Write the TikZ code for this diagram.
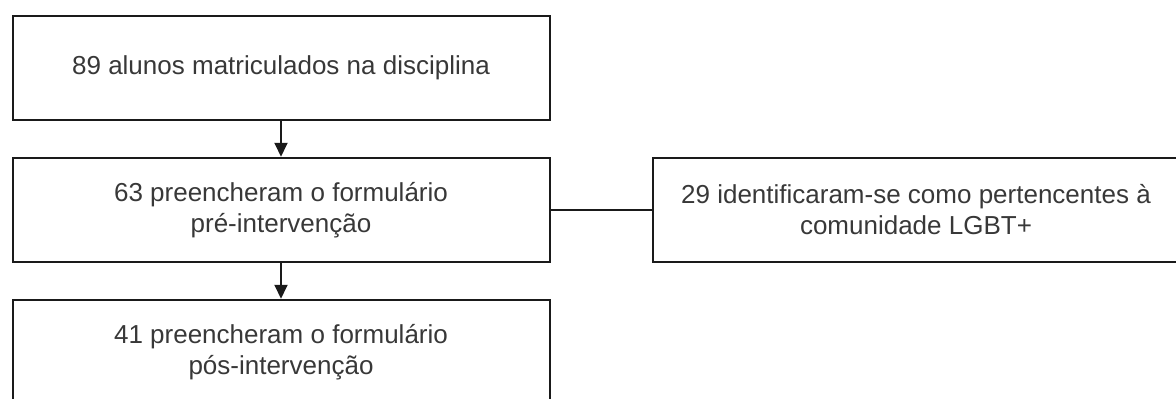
\documentclass[tikz,border=0pt]{standalone}
\usepackage{fontspec}
\setmainfont{Liberation Sans}
\usetikzlibrary{arrows.meta}
\definecolor{txt}{HTML}{383838}
\definecolor{ln}{HTML}{1A1A1A}
\tikzset{
  stepbox/.style={draw=ln, line width=2pt, minimum width=537pt, minimum height=104.5pt,
    inner sep=0pt, align=center, text=txt, font=\fontsize{26}{31}\selectfont},
  conn/.style={draw=ln, line width=2pt},
  arr/.style={conn, -{Triangle[length=14pt,width=13pt]}}
}
\begin{document}
\begin{tikzpicture}[x=1pt,y=-1pt]
\useasboundingbox (0,0) rectangle (1176,399);
\clip (0,0) rectangle (1176,399);
\node[stepbox] (a) at (281,67.75) {89 alunos matriculados na disciplina};
\node[stepbox] (b) at (281,210) {63 preencheram o formulário\\pré-intervenção};
\node[stepbox] (c) at (281,352) {41 preencheram o formulário\\pós-intervenção};
\node[stepbox] (d) at (921.5,210) {};
\node[text=txt, align=center, font=\fontsize{26}{31}\selectfont] (dt) at (916,210) {29 identificaram-se como pertencentes à\\comunidade LGBT+};
\draw[arr] (a.south) -- (b.north);
\draw[arr] (b.south) -- (c.north);
\draw[conn] (b.east) -- (d.west);
\end{tikzpicture}
\end{document}
